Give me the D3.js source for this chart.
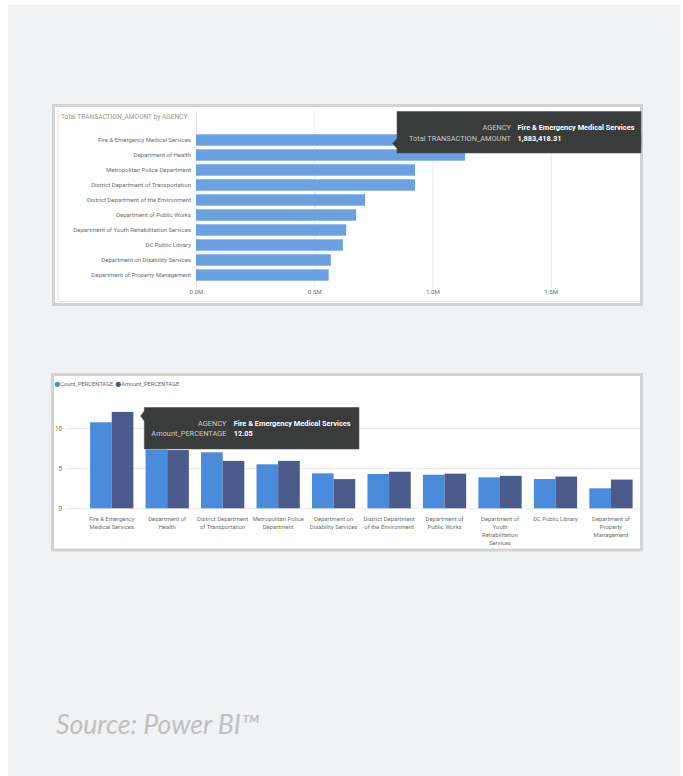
<!DOCTYPE html>
<html>
<head>
<meta charset="utf-8">
<script src="https://cdn.jsdelivr.net/npm/d3@7/dist/d3.min.js"></script>
<style>
  html, body { margin: 0; padding: 0; background: #ffffff; }
  svg { display: block; }
</style>
</head>
<body>
<svg id="chart" width="683" height="776"></svg>
<script>
// ---------- DATA ----------
const agencies = [
  "Fire & Emergency Medical Services",
  "Department of Health",
  "Metropolitan Police Department",
  "District Department of Transportation",
  "District Department of the Environment",
  "Department of Public Works",
  "Department of Youth Rehabilitation Services",
  "DC Public Library",
  "Department on Disability Services",
  "Department of Property Management"
];
const transactionAmount = [1883418.31, 1138000, 926000, 926000, 715000, 677000, 635000, 621000, 570000, 561000];
const amountTicks = [0, 500000, 1000000, 1500000];
const amountTickLabels = ["0.0M", "0.5M", "1.0M", "1.5M"];

const columnAgencies = [
  "Fire & Emergency Medical Services",
  "Department of Health",
  "District Department of Transportation",
  "Metropolitan Police Department",
  "Department on Disability Services",
  "District Department of the Environment",
  "Department of Public Works",
  "Department of Youth Rehabilitation Services",
  "DC Public Library",
  "Department of Property Management"
];
const columnTickLabels = [
  ["Fire & Emergency", "Medical Services"],
  ["Department of", "Health"],
  ["District Department", "of Transportation"],
  ["Metropolitan Police", "Department"],
  ["Department on", "Disability Services"],
  ["District Department", "of the Environment"],
  ["Department of", "Public Works"],
  ["Department of", "Youth", "Rehabilitation", "Services"],
  ["DC Public Library"],
  ["Department of", "Property", "Management"]
];
const countPercentage  = [10.75, 7.35, 7.0, 5.5, 4.37, 4.29, 4.2, 3.87, 3.66, 2.5];
const amountPercentage = [12.05, 7.28, 5.92, 5.92, 3.65, 4.57, 4.33, 4.06, 3.97, 3.59];
const seriesNames = ["Count_PERCENTAGE", "Amount_PERCENTAGE"];
const percentTicks = [0, 5, 10];

// ---------- STYLE ----------
const barColor = "#6aa1e2";
const seriesColors = ["#4a8bdb", "#4a5b8c"];
const labelColor = "#6f6f6f";
const gridColor = "#ebebeb";
const smallFont = "Roboto, 'Open Sans', sans-serif";

const svg = d3.select("#chart");

// page background
svg.append("rect").attr("x", 8).attr("y", 5).attr("width", 672).attr("height", 771).attr("fill", "#f1f2f4");

function frame(x, y, w, h) {
  svg.append("rect").attr("x", x).attr("y", y).attr("width", w).attr("height", h)
    .attr("fill", "#ffffff").attr("stroke", "#d2d3d4").attr("stroke-width", 3);
}

// ---------- TOP: horizontal bar chart ----------
frame(53.5, 105.5, 588, 199);
svg.append("line").attr("x1", 58).attr("x2", 58).attr("y1", 110).attr("y2", 302)
  .attr("stroke", "#dcdcdc").attr("stroke-width", 1);
svg.append("line").attr("x1", 58).attr("x2", 640).attr("y1", 301.5).attr("y2", 301.5)
  .attr("stroke", "#e6e8e8").attr("stroke-width", 1);

svg.append("text").attr("x", 61).attr("y", 118.5)
  .attr("font-size", 6.6).attr("fill", "#a1958a").attr("font-family", smallFont)
  .text("Total TRANSACTION_AMOUNT by AGENCY");

const xTop = d3.scaleLinear().domain([0, 2000000]).range([196, 669]);
const yTop = d3.scaleBand().domain(agencies).range([132.5, 282.5]).paddingInner(0.24).paddingOuter(0.12);

const gTop = svg.append("g");
gTop.selectAll("line.grid").data(amountTicks).join("line")
  .attr("class", "grid")
  .attr("x1", d => xTop(d) + 0.5).attr("x2", d => xTop(d) + 0.5)
  .attr("y1", 111).attr("y2", 288)
  .attr("stroke", gridColor).attr("stroke-width", 1);

gTop.selectAll("rect.bar").data(agencies).join("rect")
  .attr("class", "bar")
  .attr("x", xTop(0))
  .attr("y", d => yTop(d))
  .attr("width", (d, i) => xTop(transactionAmount[i]) - xTop(0))
  .attr("height", yTop.bandwidth())
  .attr("fill", barColor);

const yAxisTop = d3.axisLeft(yTop).tickSize(0).tickPadding(5);
const gyTop = svg.append("g").attr("transform", "translate(196,0)").call(yAxisTop);
gyTop.select(".domain").remove();
gyTop.attr("font-family", smallFont).attr("font-size", 6.0);
gyTop.selectAll("text").attr("fill", labelColor);

const xAxisTop = d3.axisBottom(xTop).tickValues(amountTicks)
  .tickFormat((d, i) => amountTickLabels[i]).tickSize(0).tickPadding(0);
const gxTop = svg.append("g").attr("transform", "translate(0,290)").call(xAxisTop);
gxTop.select(".domain").remove();
gxTop.attr("font-family", smallFont).attr("font-size", 6.2);
gxTop.selectAll("text").attr("fill", labelColor);

// tooltip
function tooltip(x, y, w, h, tipX, tipY, labels, values, labelX, valueX, rowYs) {
  const g = svg.append("g").attr("font-family", smallFont).attr("font-size", 7.4);
  g.append("path")
    .attr("d", `M${x},${y} H${x + w} V${y + h} H${x} V${tipY + 5} L${tipX},${tipY} L${x},${tipY - 5} Z`)
    .attr("fill", "#3a3b3b").attr("stroke", "#555").attr("stroke-width", 0.6);
  labels.forEach((l, i) => {
    g.append("text").attr("x", labelX).attr("y", rowYs[i]).attr("text-anchor", "end")
      .attr("fill", "#c9c9c9").text(l);
    g.append("text").attr("x", valueX).attr("y", rowYs[i])
      .attr("font-weight", "bold").attr("fill", "#ffffff").text(values[i]);
  });
}
tooltip(397, 111.5, 244, 41.5, 392.5, 143.5,
  ["AGENCY", "Total TRANSACTION_AMOUNT"],
  [agencies[0], d3.format(",.2f")(transactionAmount[0])],
  511, 517.5, [130, 141]);

// ---------- BOTTOM: clustered column chart ----------
frame(52.5, 374.5, 589, 175.5);

// legend
const legend = svg.append("g").attr("font-family", smallFont).attr("font-size", 5.7);
const legendX = [57.3, 118.3];
seriesNames.forEach((s, i) => {
  legend.append("circle").attr("cx", legendX[i]).attr("cy", 384.3).attr("r", 2.6).attr("fill", seriesColors[i]);
  legend.append("text").attr("x", legendX[i] + 3).attr("y", 386.4)
    .attr("fill", "#666").text(s);
});

const yBot = d3.scaleLinear().domain([0, 10]).range([508.3, 428.3]);
const xBot = d3.scaleBand().domain(columnAgencies).range([84, 638.7]).paddingInner(0.22).paddingOuter(0.11);
const xSub = d3.scaleBand().domain(seriesNames).range([0, xBot.bandwidth()]);

svg.append("g").selectAll("line").data(percentTicks).join("line")
  .attr("x1", 66.5).attr("x2", 640)
  .attr("y1", d => Math.round(yBot(d)) + 0.5).attr("y2", d => Math.round(yBot(d)) + 0.5)
  .attr("stroke", gridColor).attr("stroke-width", 1);

const yAxisBot = d3.axisLeft(yBot).tickValues(percentTicks).tickSize(0).tickPadding(0);
const gyBot = svg.append("g").attr("transform", "translate(62,0)").call(yAxisBot);
gyBot.select(".domain").remove();
gyBot.attr("font-family", smallFont).attr("font-size", 6.3);
gyBot.selectAll("text").attr("fill", labelColor);

const seriesData = [countPercentage, amountPercentage];
const groups = svg.append("g").selectAll("g").data(columnAgencies).join("g")
  .attr("transform", d => `translate(${xBot(d)},0)`);
seriesNames.forEach((s, si) => {
  groups.append("rect")
    .attr("x", xSub(s))
    .attr("y", (d, i) => yBot(seriesData[si][i]))
    .attr("width", xSub.bandwidth())
    .attr("height", (d, i) => yBot(0) - yBot(seriesData[si][i]))
    .attr("fill", seriesColors[si]);
});

// x tick labels (wrapped)
const xAxisBot = d3.axisBottom(xBot).tickSize(0).tickFormat("");
const gxBot = svg.append("g").attr("transform", "translate(0,508.3)").call(xAxisBot);
gxBot.select(".domain").remove();
gxBot.attr("font-family", smallFont).attr("font-size", 5.9);
gxBot.selectAll(".tick").each(function (d, i) {
  const t = d3.select(this).append("text")
    .attr("text-anchor", "middle").attr("fill", labelColor);
  columnTickLabels[i].forEach((line, li) => {
    t.append("tspan").attr("x", 0).attr("y", 13 + li * 7.8).text(line);
  });
});

tooltip(144.3, 407.5, 214.7, 41.5, 140.5, 416,
  ["AGENCY", "Amount_PERCENTAGE"],
  [columnAgencies[0], d3.format(".2f")(amountPercentage[0])],
  226.5, 233.7, [425.5, 436]);

// source
svg.append("text").attr("x", 56).attr("y", 734)
  .attr("font-family", "Lato, 'Open Sans', sans-serif").attr("font-style", "italic")
  .attr("font-size", 26.6).attr("fill", "#bfc0c2")
  .text("Source: Power BI™");
</script>
</body>
</html>
